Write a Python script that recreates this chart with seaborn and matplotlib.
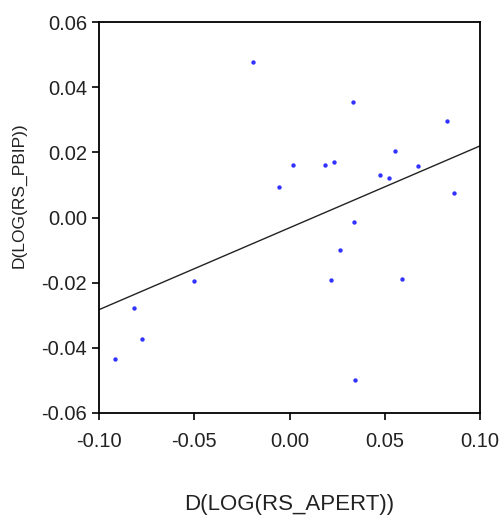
import numpy as np
import pandas as pd
import seaborn as sns
import matplotlib
matplotlib.use("Agg")
import matplotlib.pyplot as plt

# Data
rs_apert = [-0.0193, 0.0333, 0.0828, 0.0554, 0.0018, 0.0186, 0.0235, 0.0673,
            0.0477, 0.0521, -0.0055, 0.0862, 0.0340, 0.0263, -0.0500, 0.0216,
            0.0589, -0.0816, -0.0773, -0.0918, 0.0346]
rs_pbip = [0.0477, 0.0355, 0.0297, 0.0205, 0.0161, 0.0161, 0.0171, 0.0158,
           0.0131, 0.0120, 0.0094, 0.0075, -0.0014, -0.0099, -0.0194, -0.0191,
           -0.0189, -0.0277, -0.0373, -0.0433, -0.0498]
x_ticks = [-0.10, -0.05, 0.00, 0.05, 0.10]
y_ticks = [-0.06, -0.04, -0.02, 0.00, 0.02, 0.04, 0.06]

df = pd.DataFrame({"D(LOG(RS_APERT))": rs_apert, "D(LOG(RS_PBIP))": rs_pbip})

sns.set_style("white")
plt.rcParams["font.family"] = ["Liberation Sans", "DejaVu Sans"]

fig = plt.figure(figsize=(5.04, 5.15), dpi=100)
ax = fig.add_axes([99/504, 1 - 413/515, (480-99)/504, (413-22)/515])
ax.set_xlim(-0.10, 0.10)
ax.set_ylim(-0.06, 0.06)

sns.regplot(data=df, x="D(LOG(RS_APERT))", y="D(LOG(RS_PBIP))", ax=ax,
            ci=None, truncate=False,
            scatter_kws=dict(marker="s", s=10, color="#0000FF", linewidths=0),
            line_kws=dict(color="#222222", linewidth=1.0))

ax.set_xlim(-0.10, 0.10)
ax.set_ylim(-0.06, 0.06)
ax.set_xticks(x_ticks)
ax.set_xticklabels([f"{v:.2f}" for v in x_ticks])
ax.set_yticks(y_ticks)
ax.set_yticklabels([f"{v:.2f}" for v in y_ticks])
ax.tick_params(axis="both", which="major", direction="out", length=5, width=1.2,
               color="black", labelsize=14.5, labelcolor="#222222",
               left=True, bottom=True)
ax.tick_params(axis="x", pad=8.5)
ax.tick_params(axis="y", pad=3.5)
for sp in ax.spines.values():
    sp.set_visible(True)
    sp.set_color("black")
    sp.set_linewidth(1.3)

ax.set_xlabel("D(LOG(RS_APERT))", fontsize=16, color="#222222")
ax.set_ylabel("D(LOG(RS_PBIP))", fontsize=12.5, color="#222222")
ax.xaxis.set_label_coords(0.5, -0.207)
ax.yaxis.set_label_coords(-0.19, 0.557)

fig.savefig("out.png", dpi=100)
